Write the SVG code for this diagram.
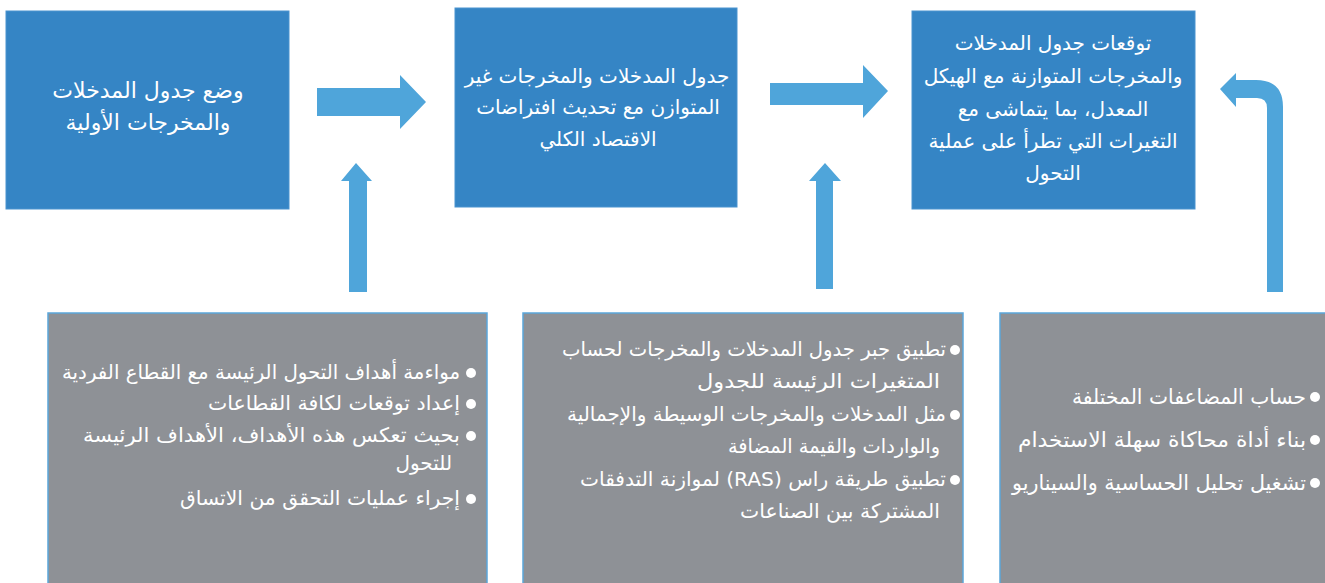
<svg xmlns="http://www.w3.org/2000/svg" width="1325" height="583" viewBox="0 0 1325 583">
<style>
.box{fill:#3585C5;stroke:#4a93cf;stroke-width:1}
.gbox{fill:#8E9196;stroke:#5BA6DA;stroke-width:1.5}
.arr{fill:#4FA5DA}
.t{font-family:"DejaVu Sans",sans-serif;fill:#ffffff;direction:rtl;unicode-bidi:embed}
.c{text-anchor:middle;font-size:20px}
.c1{font-size:22px}
.b{text-anchor:start;font-size:20px}
.b3{font-size:21px}
.dot{fill:#ffffff}
</style>
<rect width="1325" height="583" fill="#ffffff"/>
<g id="connectors">
<path class="arr" d="M317,88 H400 V75 L426,102 L400,129 V116 H317 Z"/>
<path class="arr" d="M770,83 H863 V65 L888,91 L863,118 V105 H770 Z"/>
<path class="arr" d="M349,292 V181 H341 L356,163 L372,181 H367 V292 Z"/>
<path class="arr" d="M816,289 V181 H809 L825,163 L841,181 H833 V289 Z"/>
<path class="arr" d="M1267,292 V108 Q1267,98 1257,98 H1236 V107 L1220,89 L1236,73 V80 H1256 Q1283,80 1283,107 V292 Z"/>
</g>
<g id="node1">
<rect class="box" x="6" y="11" width="283" height="198"/>
<text class="t c c1" x="148" y="98">وضع جدول المدخلات</text>
<text class="t c c1" x="148" y="130">والمخرجات الأولية</text>
</g>
<g id="node2">
<rect class="box" x="455" y="8" width="282" height="199"/>
<text class="t c" x="597" y="83">جدول المدخلات والمخرجات غير</text>
<text class="t c" x="598" y="114">المتوازن مع تحديث افتراضات</text>
<text class="t c" x="598" y="146">الاقتصاد الكلي</text>
</g>
<g id="node3">
<rect class="box" x="912" y="11" width="283" height="198"/>
<text class="t c" x="1053" y="50">توقعات جدول المدخلات</text>
<text class="t c" x="1053" y="83">والمخرجات المتوازنة مع الهيكل</text>
<text class="t c" x="1053" y="116">المعدل، بما يتماشى مع</text>
<text class="t c" x="1053" y="148">التغيرات التي تطرأ على عملية</text>
<text class="t c" x="1053" y="180">التحول</text>
</g>
<g id="notes1">
<rect class="gbox" x="48" y="313" width="439" height="280"/>
<circle class="dot" cx="471" cy="373" r="5"/>
<circle class="dot" cx="471" cy="404" r="5"/>
<circle class="dot" cx="471" cy="436" r="5"/>
<circle class="dot" cx="471" cy="499" r="5"/>
<text class="t b" x="460" y="379" textLength="398" lengthAdjust="spacingAndGlyphs">مواءمة أهداف التحول الرئيسة مع القطاع الفردية</text>
<text class="t b" x="460" y="410" textLength="252" lengthAdjust="spacingAndGlyphs">إعداد توقعات لكافة القطاعات</text>
<text class="t b" x="460" y="442" textLength="377" lengthAdjust="spacingAndGlyphs">بحيث تعكس هذه الأهداف، الأهداف الرئيسة</text>
<text class="t b" x="452" y="470">للتحول</text>
<text class="t b" x="460" y="505" textLength="280" lengthAdjust="spacingAndGlyphs">إجراء عمليات التحقق من الاتساق</text>
</g>
<g id="notes2">
<rect class="gbox" x="523" y="313" width="440" height="280"/>
<circle class="dot" cx="955" cy="350" r="5"/>
<circle class="dot" cx="955" cy="415" r="5"/>
<circle class="dot" cx="955" cy="480" r="5"/>
<text class="t b" x="946" y="356" textLength="384" lengthAdjust="spacingAndGlyphs">تطبيق جبر جدول المدخلات والمخرجات لحساب</text>
<text class="t b" x="940" y="388" textLength="243" lengthAdjust="spacingAndGlyphs">المتغيرات الرئيسة للجدول</text>
<text class="t b" x="946" y="421" textLength="379" lengthAdjust="spacingAndGlyphs">مثل المدخلات والمخرجات الوسيطة والإجمالية</text>
<text class="t b" x="940" y="453" textLength="212" lengthAdjust="spacingAndGlyphs">والواردات والقيمة المضافة</text>
<text class="t b" x="946" y="486" textLength="366" lengthAdjust="spacingAndGlyphs">تطبيق طريقة راس (RAS) لموازنة التدفقات</text>
<text class="t b" x="940" y="518" textLength="200" lengthAdjust="spacingAndGlyphs">المشتركة بين الصناعات</text>
</g>
<g id="notes3">
<rect class="gbox" x="1000" y="313" width="340" height="280"/>
<circle class="dot" cx="1315" cy="397" r="5"/>
<circle class="dot" cx="1315" cy="440" r="5"/>
<circle class="dot" cx="1315" cy="483" r="5"/>
<text class="t b b3" x="1306" y="404" textLength="234" lengthAdjust="spacingAndGlyphs">حساب المضاعفات المختلفة</text>
<text class="t b b3" x="1306" y="447" textLength="288" lengthAdjust="spacingAndGlyphs">بناء أداة محاكاة سهلة الاستخدام</text>
<text class="t b b3" x="1306" y="490" textLength="294" lengthAdjust="spacingAndGlyphs">تشغيل تحليل الحساسية والسيناريو</text>
</g>
</svg>
